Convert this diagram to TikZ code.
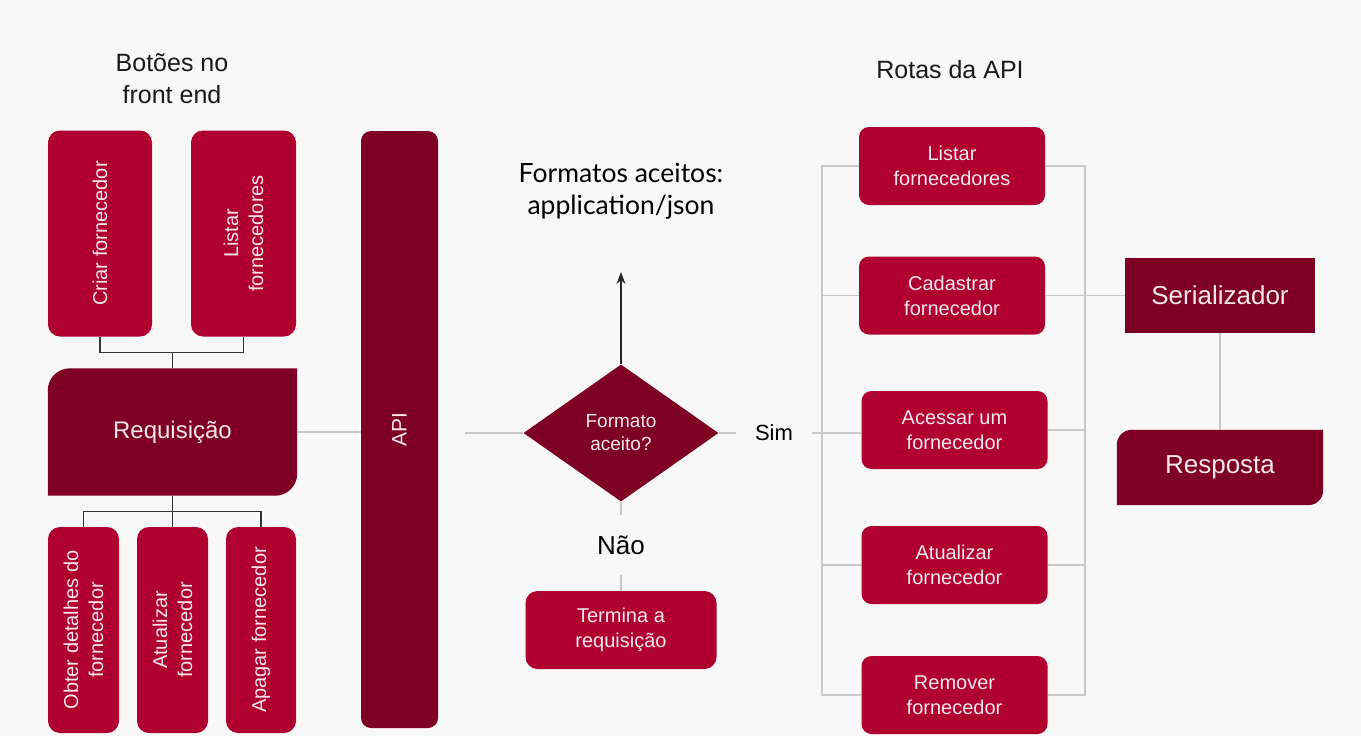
\documentclass[tikz,border=0pt]{standalone}
\usepackage{fontspec}
\setmainfont{Liberation Sans}
\newfontfamily\latofont{Lato}
\usetikzlibrary{arrows.meta,positioning,shapes.geometric,backgrounds}
\definecolor{crimsonbox}{HTML}{B00030}
\definecolor{winebox}{HTML}{7E0022}
\definecolor{pagebg}{HTML}{F8F8F8}
\definecolor{wirelight}{HTML}{C8C8C8}
\definecolor{boxtext}{HTML}{F8E8EE}
\tikzset{
      base/.style = {text=boxtext, align=center, inner sep=0pt},
       btn/.style = {base, fill=crimsonbox, rounded corners=12pt,
                     font=\fontsize{20}{25}\selectfont},
      vbtn/.style = {btn, rotate=90, minimum width=206pt, minimum height=#1},
      vbtn/.default = 104pt,
     route/.style = {btn, rounded corners=10pt, minimum width=186pt, minimum height=78pt},
      dark/.style = {base, fill=winebox, font=\fontsize{26}{30}\selectfont},
      wire/.style = {draw=wirelight, line width=1.6pt},
      tree/.style = {draw=black!80, line width=1.4pt},
     title/.style = {align=center, text=black!90, font=\fontsize{25}{32}\selectfont},
        }
% box with only two rounded corners (top left, bottom right)
\newcommand{\tabfill}[2]{%
  \fill[winebox] ([yshift=-#2]#1.north west) arc[start angle=180,end angle=90,radius=#2]
    -- (#1.north east) -- ([yshift=#2]#1.south east)
    arc[start angle=0,end angle=-90,radius=#2] -- (#1.south west) -- cycle;}

\begin{document}
\begin{tikzpicture}[x=1pt,y=-1pt,>={Stealth[length=12pt,width=9pt]}]
\useasboundingbox (0,0) rectangle (1361,736);
\begin{scope}[on background layer]
  \fill[pagebg] (0,0) rectangle (1361,736);
\end{scope}

% titles
\node[title] (frontT) at (172,79) {Botões no\\front end};
\node[title] (rotasT) at (950,70) {Rotas da API};
\node[title, text=black, font=\latofont\fontsize{26.5}{32}\selectfont] (fmtT) at (621,191) {Formatos aceitos:\\application/json};

% front end buttons
\node[vbtn] (criar) at (100,233.5) {Criar fornecedor};
\node[vbtn=105pt] (listarV) at (243.5,233.5) {Listar\\fornecedores};
\node[base, minimum width=249pt, minimum height=127pt,
      font=\fontsize{24}{28}\selectfont] (req) at (172.5,432) {Requisição};
\node[vbtn=71pt] (obter) at (83.5,630) {Obter detalhes do\\fornecedor};
\node[vbtn=71pt] (atualV) at (172.5,630) {Atualizar\\fornecedor};
\node[vbtn=70pt] (apagar) at (261,630) {Apagar fornecedor};

% api and decision
\node[base, fill=winebox, rounded corners=10pt, rotate=90, minimum width=597pt,
      minimum height=77pt, font=\fontsize{21}{25}\selectfont] (api) at (399.5,429.5) {API};
\node[base, diamond, fill=winebox, minimum width=195pt, minimum height=137pt,
      font=\fontsize{19}{23}\selectfont] (fmt) at (621,433) {Formato\\aceito?};
\coordinate (up) at (621,272);
\node[font=\fontsize{22}{26}\selectfont, minimum width=75pt, inner sep=0pt] (sim) at (774,433) {Sim};
\node[font=\fontsize{26}{30}\selectfont, minimum height=60pt, inner sep=0pt] (nao) at (621,545) {Não};
\node[btn, minimum width=191pt, minimum height=78pt] (termina) at (621,630) {Termina a\\requisição};

% routes
\node[route] (listarR) at (952,166) {Listar\\fornecedores};
\node[route] (cadastrar) at (952,295.5) {Cadastrar\\fornecedor};
\node[route] (acessar) at (954.5,430) {Acessar um\\fornecedor};
\node[route] (atualR) at (954.5,565) {Atualizar\\fornecedor};
\node[route] (removerR) at (954.5,695) {Remover\\fornecedor};
\node[dark, minimum width=190pt, minimum height=75pt] (serial) at (1220,295.5) {Serializador};
\node[base, minimum width=206pt, minimum height=75pt,
      font=\fontsize{26}{30}\selectfont] (resp) at (1220,467.5) {Resposta};

\begin{scope}[on background layer]
  \tabfill{req}{22pt}
  \tabfill{resp}{15pt}
\end{scope}

% front end tree
\draw[tree] (criar.west) -- ++(0,16) -| (listarV.west);
\draw[tree] (req.north) -- ++(0,-15);
\draw[tree] (req.south) -- ++(0,16) coordinate (fork);
\draw[tree] (obter.east) |- (fork) -| (apagar.east);
\draw[tree] (fork) -- (atualV.east);

% flow
\draw[wire] (req.east) -- (req.east -| api.north);
\draw[wire, shorten <=27pt] (fmt.west -| api.south) -- (fmt.west);
\draw[->, line width=1.5pt, black!85] (fmt.north) -- (up);
\draw[wire] (fmt.east) -- (sim.west);
\draw[wire] (sim.east) -- (sim.east -| acessar.west);
\draw[wire] (fmt.south) -- (nao.north);
\draw[wire] (nao.south) -- (termina.north);

% route buses
\coordinate (busL) at (822,0);
\coordinate (busR) at (1085,0);
\draw[wire] (listarR.west) -| (busL |- removerR.west) -- (removerR.west);
\draw[wire] (cadastrar.west) -- (cadastrar.west -| busL);
\draw[wire] (atualR.west) -- (atualR.west -| busL);
\draw[wire] (listarR.east) -| (busR |- removerR.east) -- (removerR.east);
\draw[wire] (cadastrar.east) -- (serial.west);
\draw[wire] (acessar.east) -- (acessar.east -| busR);
\draw[wire] (atualR.east) -- (atualR.east -| busR);
\draw[wire] (serial.south) -- (resp.north);
\end{tikzpicture}
\end{document}
